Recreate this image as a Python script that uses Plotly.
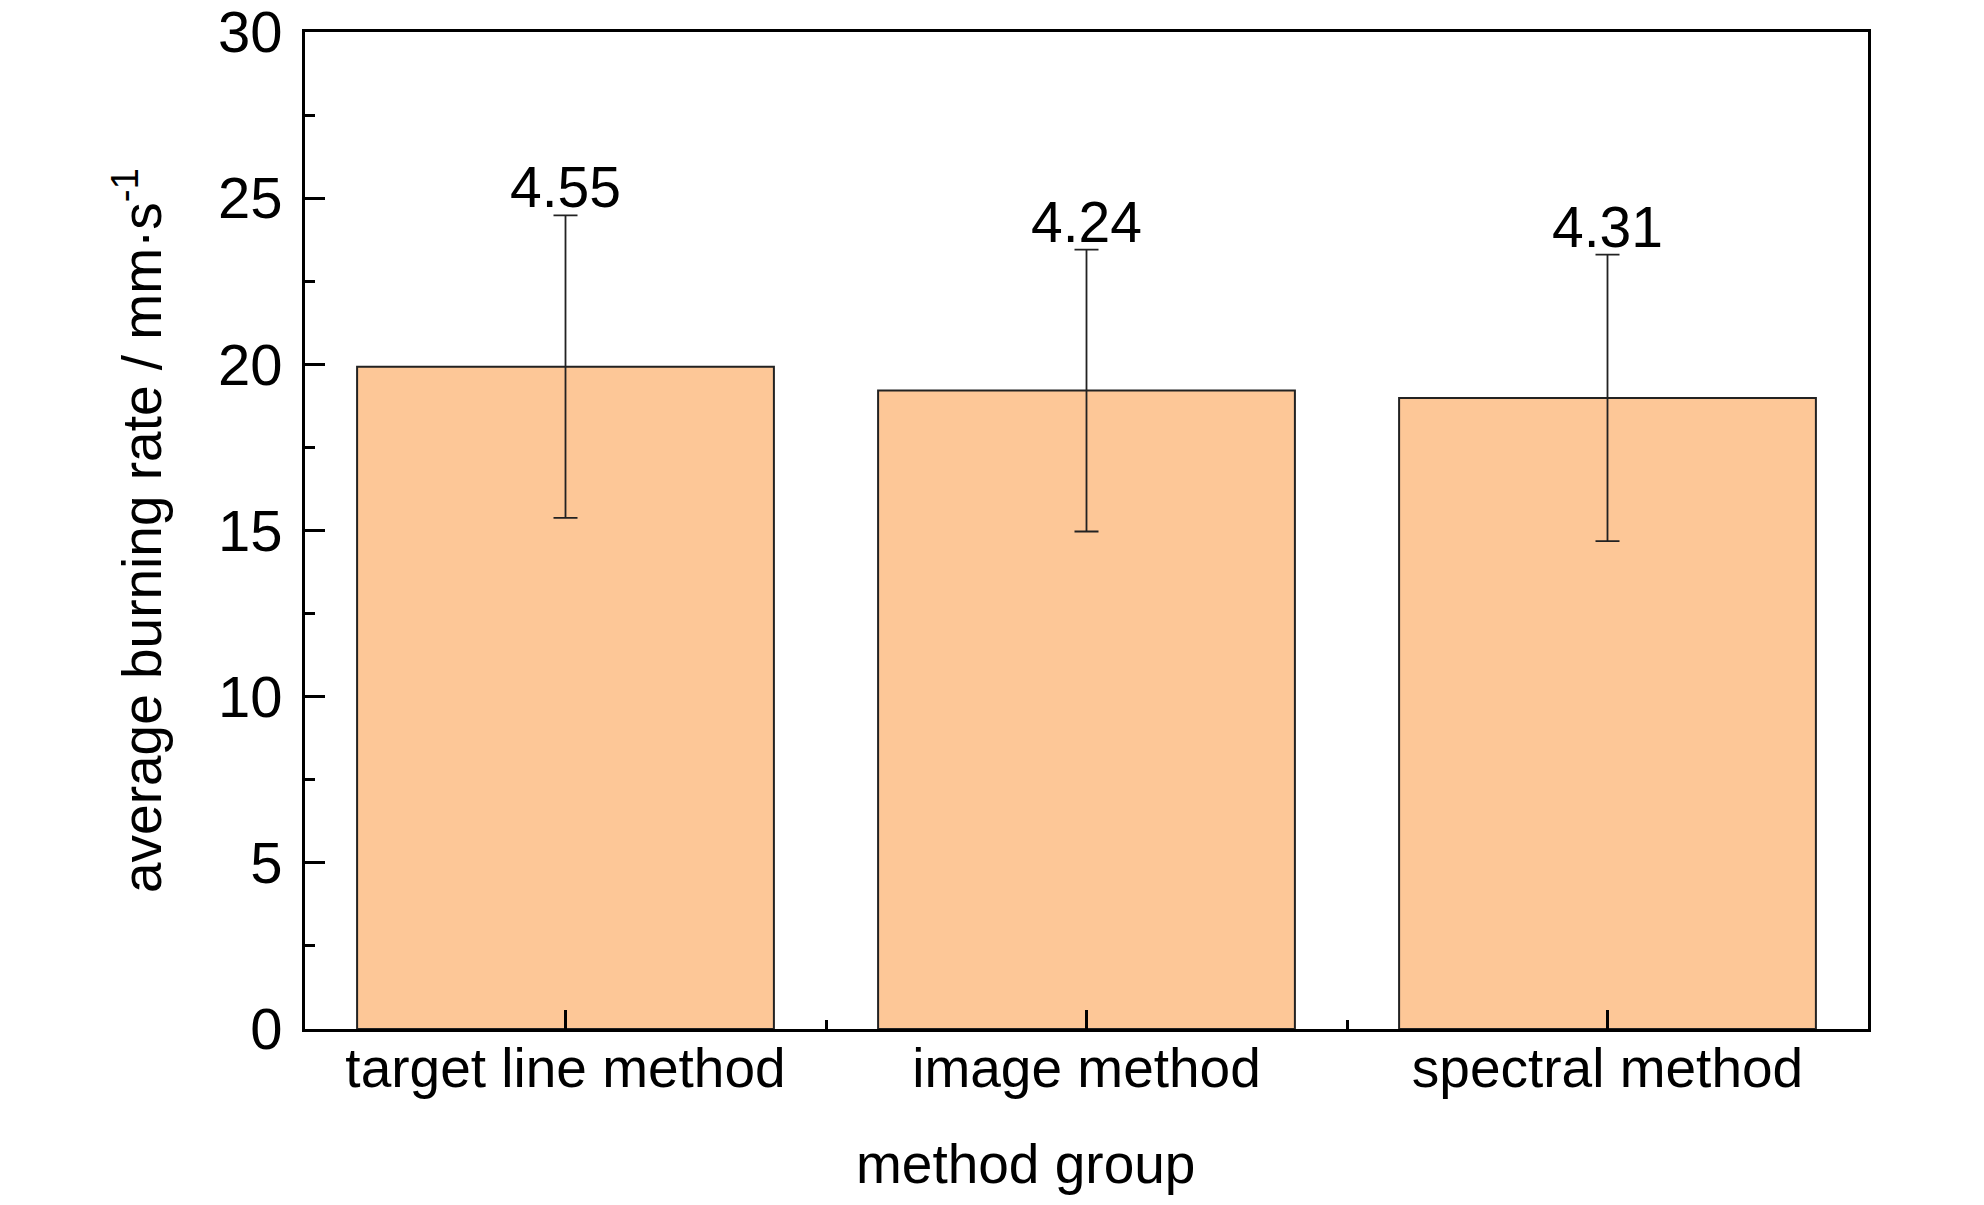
import plotly.graph_objects as go

categories = ["target line method", "image method", "spectral method"]
means = [19.93, 19.21, 18.99]
errors = [4.55, 4.24, 4.31]
labels = ["4.55", "4.24", "4.31"]
y_ticks = [0, 5, 10, 15, 20, 25, 30]

FONT = "Liberation Sans Narrow, Arial Narrow, Liberation Sans, Arial, sans-serif"
xpos = list(range(len(categories)))

fig = go.Figure()
fig.add_trace(go.Bar(
    x=xpos, y=means, width=0.8,
    marker=dict(color="#FDC797", line=dict(color="#222222", width=2)),
    error_y=dict(type="data", array=errors, visible=True, color="#222222",
                 thickness=1.8, width=12),
    showlegend=False,
))

for xi, m, e, t in zip(xpos, means, errors, labels):
    fig.add_annotation(x=xi, y=m + e, text=t, showarrow=False,
                       xanchor="center", yanchor="bottom", yshift=-6,
                       font=dict(family=FONT, size=57, color="black"))

fig.add_annotation(x=0.4607, y=-0.135, xref="paper", yref="paper",
                   text="method group", showarrow=False,
                   xanchor="center", yanchor="middle",
                   font=dict(family=FONT, size=55, color="black"))

fig.update_layout(
    width=1976, height=1197,
    margin=dict(l=297, r=116, t=24, b=176, autoexpand=False),
    paper_bgcolor="white", plot_bgcolor="white",
    font=dict(family=FONT, color="black"),
    bargap=0.2,
)
fig.update_xaxes(
    range=[-0.5, 2.5], tickmode="array", tickvals=xpos, ticktext=categories,
    ticks="inside", ticklen=19, tickwidth=3, tickcolor="black",
    ticklabelstandoff=-11, automargin=False,
    showline=True, linewidth=3, linecolor="black", mirror=True,
    showgrid=False, zeroline=False,
    tickfont=dict(family=FONT, size=55, color="black"),
    minor=dict(tickvals=[0.5, 1.5], ticks="inside", ticklen=9, tickwidth=3,
               tickcolor="black", showgrid=False),
)
fig.update_yaxes(
    range=[0, 30], tickmode="array", tickvals=y_ticks,
    ticks="inside", ticklen=20, tickwidth=3, tickcolor="black",
    ticklabelstandoff=8, ticklabeloverflow="allow", automargin=False,
    showline=True, linewidth=3, linecolor="black", mirror=True,
    showgrid=False, zeroline=False,
    tickfont=dict(family=FONT, size=58, color="black"),
    minor=dict(dtick=2.5, tick0=0, ticks="inside", ticklen=10, tickwidth=3,
               tickcolor="black", showgrid=False),
    title=dict(text="average burning rate / mm·s<sup>-1</sup>", standoff=39,
               font=dict(family=FONT, size=55, color="black")),
)

fig.write_html("out.html")
